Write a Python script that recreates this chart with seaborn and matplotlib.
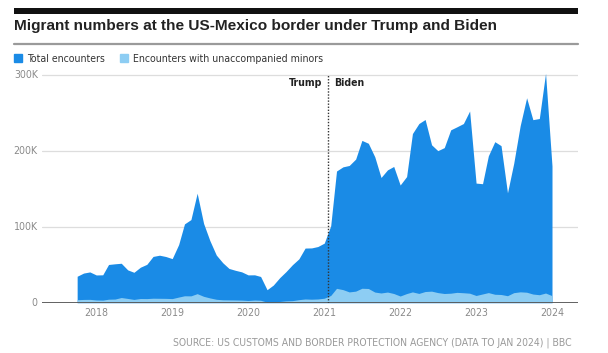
import pandas as pd
import matplotlib.pyplot as plt
import seaborn as sns
from matplotlib.patches import Patch, Rectangle
from matplotlib.lines import Line2D

# -------- data (thousands, monthly, Oct 2017 - Jan 2024) --------
start_month = "2017-10-01"
total_encounters = [
    34.8, 39.0, 40.5,
    36.5, 36.7, 50.3, 51.2, 51.9, 43.2, 40.0, 46.7, 50.5, 60.9, 62.5, 60.8,
    58.0, 76.5, 103.7, 109.4, 144.1, 104.3, 81.8, 62.7, 52.6, 45.1, 42.6, 40.6,
    36.6, 36.7, 34.5, 17.1, 23.2, 33.0, 40.9, 50.0, 57.7, 71.9, 72.1, 73.9,
    78.4, 101.1, 173.3, 178.8, 180.6, 189.0, 213.6, 209.8, 192.0, 164.8, 174.8, 179.3,
    154.9, 166.0, 222.6, 235.8, 241.1, 207.8, 200.1, 204.1, 227.5, 231.5, 235.8, 252.3,
    157.4, 156.6, 193.3, 211.9, 206.7, 144.6, 183.5, 232.9, 269.7, 240.9, 242.4, 301.9,
    180.0,
]
unaccompanied_minors = [
    3.9, 4.3, 4.4,
    3.6, 3.4, 4.6, 4.8, 6.8, 5.6, 4.3, 5.5, 5.4, 5.9, 5.8, 5.7,
    5.4, 7.4, 9.1, 9.0, 11.9, 8.4, 6.3, 4.5, 3.8, 3.7, 3.6, 3.4,
    2.9, 3.5, 3.2, 0.7, 1.0, 1.6, 2.4, 2.7, 4.0, 4.9, 4.6, 4.9,
    5.9, 9.5, 18.9, 17.2, 14.2, 15.2, 19.0, 18.7, 14.0, 12.8, 14.0, 12.1,
    8.8, 12.0, 14.2, 12.2, 14.7, 15.2, 13.3, 12.1, 12.5, 13.6, 13.1, 12.5,
    9.5, 11.5, 13.3, 11.1, 10.8, 9.2, 13.2, 14.3, 13.8, 11.4, 10.5, 12.7,
    9.3,
]
year_ticks = ["2018", "2019", "2020", "2021", "2022", "2023", "2024"]
y_ticks = [0, 100, 200, 300]
y_labels = ["0", "100K", "200K", "300K"]
inauguration = "2021-01-20"

df = pd.DataFrame({
    "month": pd.date_range(start_month, periods=len(total_encounters), freq="MS"),
    "total": total_encounters,
    "minors": unaccompanied_minors,
})

BLUE = "#1a8be6"
LIGHT = "#8dcdf3"
GREY = "#8a8a8a"

# -------- style --------
sns.set_theme(style="white")
plt.rcParams["font.family"] = ["DejaVu Sans"]
plt.rcParams["font.stretch"] = "condensed"

fig = plt.figure(figsize=(6.08, 3.53), dpi=100)
ax = fig.add_axes([42 / 608, 0.1425, 536 / 608, 0.6565])

ax.fill_between(df["month"], 0, df["total"], color=BLUE, lw=0)
ax.fill_between(df["month"], 0, df["minors"], color=LIGHT, lw=0)

ax.set_ylim(0, 305)
ax.set_xlim(pd.Timestamp("2017-04-15"), pd.Timestamp("2024-05-05"))
ax.set_yticks(y_ticks)
ax.set_yticklabels(y_labels)
ax.set_xticks([pd.Timestamp(f"{y}-01-01") for y in year_ticks])
ax.set_xticklabels(year_ticks)
ax.tick_params(axis="both", length=0, labelsize=7.6, labelcolor=GREY)
ax.tick_params(axis="y", pad=3)
ax.tick_params(axis="x", pad=4)
ax.set_xlabel("")
ax.set_ylabel("")
for lbl in ax.get_yticklabels():
    lbl.set_verticalalignment("center")

for y in y_ticks[1:]:
    ax.axhline(y, color="#dddddd", lw=0.9, zorder=0)
ax.axhline(0, color="#555555", lw=1.3, zorder=3)
sns.despine(ax=ax, left=True, bottom=True)

# Trump / Biden divider
t0 = pd.Timestamp(inauguration)
ax.plot([t0, t0], [0, 300], color="#333333", lw=1.0, ls=(0, (1, 1.2)), zorder=4)
ax.annotate("Trump", (t0, 289), xytext=(-4.5, 0), textcoords="offset points",
            ha="right", va="center", fontsize=7.6, fontweight="bold", color="#222222")
ax.annotate("Biden", (t0, 289), xytext=(4, 0), textcoords="offset points",
            ha="left", va="center", fontsize=7.6, fontweight="bold", color="#222222")

# -------- header --------
fig.add_artist(Rectangle((14 / 608, 1 - 13.5 / 353), 564 / 608, 6 / 353,
                         transform=fig.transFigure, color="#111111", lw=0))
fig.text(14 / 608, 1 - 30 / 353, "Migrant numbers at the US-Mexico border under Trump and Biden",
         family=["Liberation Sans", "DejaVu Sans"], fontstretch="normal", fontweight="bold",
         fontsize=11.1, color="#222222", va="baseline", ha="left")
fig.add_artist(Line2D([14 / 608, 578 / 608], [1 - 43.5 / 353] * 2,
                      transform=fig.transFigure, color="#9a9a9a", lw=1.6))

handles = [Patch(color=BLUE), Patch(color=LIGHT)]
fig.legend(handles, ["Total encounters", "Encounters with unaccompanied minors"],
           loc="center left", bbox_to_anchor=(14 / 608, 1 - 59 / 353), ncol=2,
           frameon=False, fontsize=7.6, handlelength=0.8, handleheight=0.8,
           handletextpad=0.45, columnspacing=1.4, borderpad=0, borderaxespad=0,
           labelcolor="#333333")

fig.text(572 / 608, 1 - 343 / 353,
         "SOURCE: US CUSTOMS AND BORDER PROTECTION AGENCY (DATA TO JAN 2024) | BBC",
         ha="right", va="center", fontsize=7.5, color="#9a9a9a")

fig.savefig("out.png", dpi=100)
